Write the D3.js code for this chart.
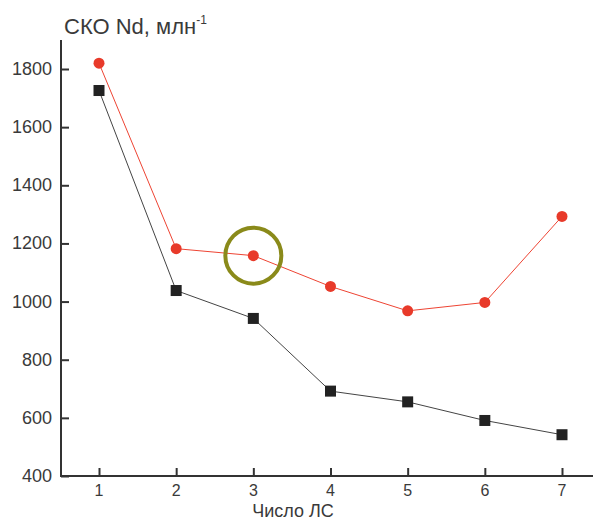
<!DOCTYPE html>
<html><head><meta charset="utf-8">
<script src="https://cdn.jsdelivr.net/npm/d3@7"></script>
<style>body{margin:0;background:#fff;}text{font-family:"Liberation Sans",Arial,sans-serif;fill:#3a3a3a;}</style>
</head><body><svg id="c" width="593" height="520"></svg>
<script>
const categories = [1, 2, 3, 4, 5, 6, 7];
const redSeries = [1820, 1182, 1158, 1052, 968, 997, 1293];
const blackSeries = [1726, 1038, 942, 692, 655, 591, 542];
const yTicks = [400, 600, 800, 1000, 1200, 1400, 1600, 1800];
const highlightIndex = 2;

const svg = d3.select("#c");
const x = d3.scaleLinear().domain([1, 7]).range([99, 562]);
const y = d3.scaleLinear().domain([400, 1800]).range([476, 69]);

// axes
svg.append("line").attr("x1", 61).attr("x2", 61).attr("y1", 40).attr("y2", 476).attr("stroke", "#333").attr("stroke-width", 2);
svg.append("line").attr("x1", 60).attr("x2", 593).attr("y1", 476).attr("y2", 476).attr("stroke", "#333").attr("stroke-width", 2);

const yAxis = d3.axisRight(y).tickValues(yTicks).tickSize(8).tickFormat(() => "");
const gy = svg.append("g").attr("transform", "translate(61,0)").call(yAxis);
gy.select(".domain").remove();
gy.selectAll("line").attr("stroke", "#333").attr("stroke-width", 2);
svg.selectAll(".ylab").data(yTicks).join("text").attr("class", "ylab")
  .attr("x", 52).attr("y", d => y(d) + 6).attr("text-anchor", "end").attr("font-size", 18).text(d => d);

const xAxis = d3.axisTop(x).tickValues(categories).tickSize(8).tickFormat(() => "");
const gx = svg.append("g").attr("transform", "translate(0,476)").call(xAxis);
gx.select(".domain").remove();
gx.selectAll("line").attr("stroke", "#333").attr("stroke-width", 2);
svg.selectAll(".xlab").data(categories).join("text").attr("class", "xlab")
  .attr("x", d => x(d)).attr("y", 496).attr("text-anchor", "middle").attr("font-size", 16).text(d => d);

svg.append("text").attr("x", 293).attr("y", 517).attr("text-anchor", "middle").attr("font-size", 18).text("Число ЛС");
const t = svg.append("text").attr("x", 64).attr("y", 34).attr("font-size", 22);
t.append("tspan").text("СКО Nd, млн");
t.append("tspan").attr("font-size", 12).attr("dy", -10).text("-1");

const line = d3.line().x((d, i) => x(categories[i])).y(d => y(d));
svg.append("path").datum(blackSeries).attr("d", line).attr("fill", "none").attr("stroke", "#444").attr("stroke-width", 1);
svg.append("path").datum(redSeries).attr("d", line).attr("fill", "none").attr("stroke", "#ee4433").attr("stroke-width", 1);

svg.selectAll(".sq").data(blackSeries).join("rect").attr("class", "sq")
  .attr("x", (d, i) => x(categories[i]) - 5.5).attr("y", d => y(d) - 5.5)
  .attr("width", 11).attr("height", 11).attr("fill", "#222");
svg.selectAll(".dot").data(redSeries).join("circle").attr("class", "dot")
  .attr("cx", (d, i) => x(categories[i])).attr("cy", d => y(d)).attr("r", 5.5).attr("fill", "#e83a2a");

svg.append("circle").attr("cx", x(categories[highlightIndex])).attr("cy", y(redSeries[highlightIndex]))
  .attr("r", 28).attr("fill", "none").attr("stroke", "#8a8a1a").attr("stroke-width", 4);
</script></body></html>
